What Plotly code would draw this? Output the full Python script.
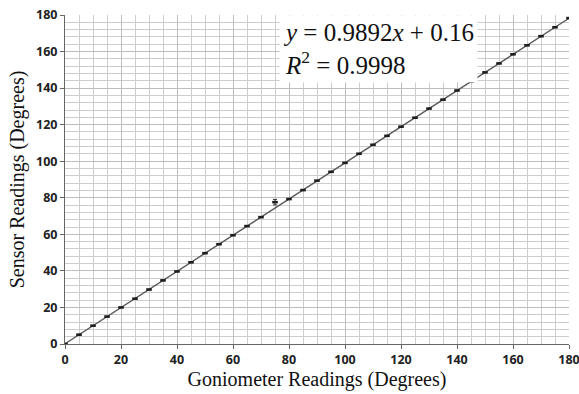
import plotly.graph_objects as go

# Goniometer reference angles and the matching sensor readings (degrees)
goniometer = [0, 5, 10, 15, 20, 25, 30, 35, 40, 45, 50, 55, 60, 65, 70, 75, 80, 85, 90,
              95, 100, 105, 110, 115, 120, 125, 130, 135, 140, 145, 150, 155, 160, 165,
              170, 175, 180]
sensor = [0.0, 5.1, 10.0, 15.0, 20.0, 24.8, 29.8, 34.8, 39.7, 44.7, 49.7, 54.6, 59.5,
          64.5, 69.4, 77.6, 79.3, 84.2, 89.4, 94.2, 99.1, 104.1, 109.0, 113.9, 118.9,
          123.8, 128.8, 133.7, 138.7, 143.6, 148.6, 153.5, 158.5, 163.4, 168.4, 173.3,
          178.3]
sensor_err = [0, 0, 0, 0, 0, 0, 0, 0, 0, 0, 0, 0, 0, 0, 0, 1.5, 0, 0, 0, 0, 0, 0, 0, 0,
              0, 0, 0, 0, 0, 0, 0, 0, 0, 0, 0, 0, 0]

# Linear fit
slope = 0.9892
intercept = 0.16
r_squared = 0.9998
fit_x = [0, 180]
fit_y = [slope * v + intercept for v in fit_x]

fig = go.Figure()
fig.add_trace(go.Scatter(
    x=fit_x, y=fit_y, mode="lines",
    line=dict(color="#5a5a5a", width=1.4),
    hoverinfo="skip", showlegend=False,
))
fig.add_trace(go.Scatter(
    x=goniometer, y=sensor, mode="markers",
    marker=dict(symbol="line-ew", size=4, line=dict(color="#1e1e1e", width=2.6)),
    error_y=dict(type="data", array=sensor_err, visible=True, color="#333333",
                 thickness=1, width=2),
    showlegend=False,
))

fig.add_annotation(
    x=76.5, y=180, xref="x", yref="y", xanchor="left", yanchor="top",
    text=f"<i>y</i> = {slope}<i>x</i> + {intercept}<br><i>R</i><sup>2</sup> = {r_squared}",
    showarrow=False, align="left",
    font=dict(family="Liberation Serif, DejaVu Serif, serif", size=25, color="#111111"),
    bgcolor="white", borderpad=3,
)

tick_font = dict(family="Open Sans, Liberation Sans, sans-serif", size=12.5,
                 color="#222222", weight="bold")
title_font = dict(family="Liberation Serif, Times New Roman, serif", size=20, color="#111111")

fig.update_xaxes(
    range=[0, 180], dtick=20, tick0=0, ticks="outside", ticklen=4, tickcolor="#666666",
    showline=True, linecolor="#666666", linewidth=1,
    showgrid=True, gridcolor="#bdbdbd", gridwidth=1.2,
    minor=dict(dtick=5, tick0=0, showgrid=True, gridcolor="#cdcdcd", gridwidth=1.2),
    tickfont=tick_font, zeroline=False, automargin=False, ticklabeloverflow="allow",
    title=dict(text="Goniometer Readings (Degrees)", font=title_font, standoff=4),
)
fig.update_yaxes(
    range=[0, 180], dtick=20, tick0=0, ticks="outside", ticklen=4, tickcolor="#666666",
    showline=True, linecolor="#666666", linewidth=1,
    showgrid=True, gridcolor="#bdbdbd", gridwidth=1.2,
    minor=dict(dtick=4, tick0=0, showgrid=True, gridcolor="#cdcdcd", gridwidth=1.2),
    tickfont=tick_font, zeroline=False, automargin=False, ticklabeloverflow="allow",
    title=dict(text="Sensor Readings (Degrees)", font=title_font, standoff=6),
)

fig.update_layout(
    width=579, height=394,
    margin=dict(l=65, r=10, t=15, b=50),
    plot_bgcolor="white", paper_bgcolor="white",
)

fig.write_html("out.html")
